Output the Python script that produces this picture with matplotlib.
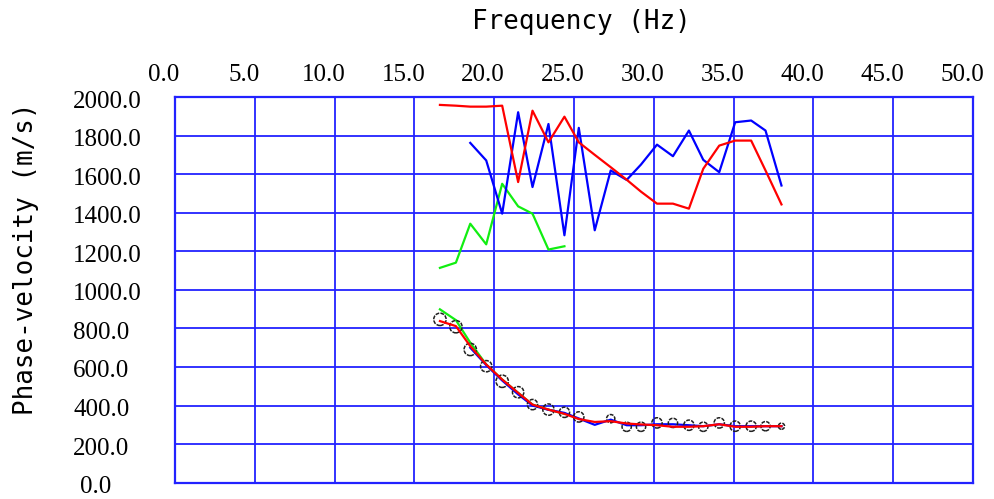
import numpy as np
import matplotlib
matplotlib.use("Agg")
import matplotlib.pyplot as plt
from matplotlib.transforms import ScaledTranslation

# ---------------- data ----------------
freq = [16.6, 17.6, 18.5, 19.5, 20.5, 21.5, 22.4, 23.4, 24.4, 25.3, 26.3, 27.3,
        28.3, 29.2, 30.2, 31.2, 32.2, 33.1, 34.1, 35.1, 36.1, 37.0, 38.0]

# higher modes (upper curves)
red_upper = [1959, 1955, 1950, 1950, 1955, 1559, 1929, 1765, 1898, 1765, 1700, 1636,
             1571, 1509, 1447, 1447, 1421, 1628, 1748, 1774, 1774, 1619, 1443]
blue_upper = [None, None, 1762, 1671, 1395, 1921, 1533, 1860, 1283, 1840, 1309, 1619,
              1570, 1650, 1753, 1693, 1826, 1674, 1610, 1869, 1878, 1826, 1541]
green_upper = [1114, 1141, 1343, 1236, 1550, 1433, 1395, 1209, 1226]

# fundamental mode (lower curves)
red_lower = [838, 812, 708, 613, 535, 466, 405, 379, 357, 330, 315, 319,
             307, 302, 298, 290, 290, 293, 303, 290, 290, 293, 293]
blue_lower = [None, None, 700, 610, 530, 458, 400, 378, 362, 333, 300, 327,
              298, 298, 303, 303, 298, 293, 303, 293, 293, 293, 293]
green_lower = [899, 843, 726, 613, 535, 466, 405, 379, 357]

# observed picks (circles)
obs_vel = [847, 809, 691, 604, 526, 469, 405, 379, 365, 341, None, 332,
           290, 290, 310, 310, 298, 290, 310, 293, 293, 293, 293]
obs_size = [12, 12, 12, 11, 12, 11, 10, 11, 10, 10, 0, 8,
            9, 9, 10, 9, 10, 9, 10, 10, 10, 9, 6]

xticks = [0, 5, 10, 15, 20, 25, 30, 35, 40, 45, 50]
yticks = [0, 200, 400, 600, 800, 1000, 1200, 1400, 1600, 1800, 2000]


def arr(v):
    return np.array([np.nan if x is None else x for x in v], dtype=float)


# ---------------- figure ----------------
W, H, DPI = 995, 499, 100
fig = plt.figure(figsize=(W / DPI, H / DPI), dpi=DPI)
ax = fig.add_axes([175 / W, 1 - 482.7 / H, (973 - 175) / W, (482.7 - 97) / H])

ax.set_xlim(0, 50)
ax.set_ylim(0, 2000)

gridc = "#2222ff"
ax.set_xticks(xticks)
ax.set_yticks(yticks)
ax.grid(True, color=gridc, linewidth=1.3)
for s in ax.spines.values():
    s.set_color(gridc)
    s.set_linewidth(1.6)
ax.set_axisbelow(True)

f = np.array(freq)
lw = 1.6
ax.plot(f, arr(red_upper), color="#ff0000", lw=lw, zorder=3)
ax.plot(f, arr(blue_upper), color="#0000ff", lw=lw, zorder=2.9)
ax.plot(f[:len(green_upper)], arr(green_upper), color="#11ee11", lw=lw, zorder=2.8)

ax.plot(f[:len(green_lower)], arr(green_lower), color="#11ee11", lw=lw, zorder=2.5)
ax.plot(f, arr(blue_lower), color="#0000ff", lw=lw, zorder=2.6)
ax.scatter(f, arr(obs_vel), s=np.array(obs_size, float) ** 2 * 0.55,
           facecolors="none", edgecolors="#202020", linewidths=1.1,
           linestyles=(0, (2.5, 0.8)), zorder=2.7)
ax.plot(f, arr(red_lower), color="#ff0000", lw=lw, zorder=2.8)

# ticks / labels
tick_font = dict(family="Liberation Serif", size=18)
ax.xaxis.tick_top()
ax.tick_params(axis="both", length=0)
ax.tick_params(axis="x", pad=8)
ax.set_xticklabels([f"{v:.1f}" for v in xticks], **tick_font)
ax.set_yticklabels([f"{v:.1f}" for v in yticks], **tick_font)
ax.tick_params(axis="y", pad=102 / DPI * 72)
for lab in ax.get_yticklabels():
    lab.set_horizontalalignment("left")

for lab in ax.get_xticklabels():
    lab.set_transform(lab.get_transform() + ScaledTranslation(-11 / DPI, 0, fig.dpi_scale_trans))
ylabs = ax.get_yticklabels()
for lab in ylabs:
    lab.set_transform(lab.get_transform() + ScaledTranslation(0, -2 / DPI, fig.dpi_scale_trans))
ylabs[0].set_transform(ylabs[0].get_transform() + ScaledTranslation(7 / DPI, 0, fig.dpi_scale_trans))

lab_font = dict(family="DejaVu Sans Mono", size=18.6)
fig.text(581 / W, 1 - 22 / H, "Frequency (Hz)", ha="center", va="center", **lab_font)
fig.text(26 / W, 1 - 259 / H, "Phase-velocity (m/s)", ha="center", va="center",
         rotation=90, **lab_font)

fig.savefig("out.png", dpi=DPI)
